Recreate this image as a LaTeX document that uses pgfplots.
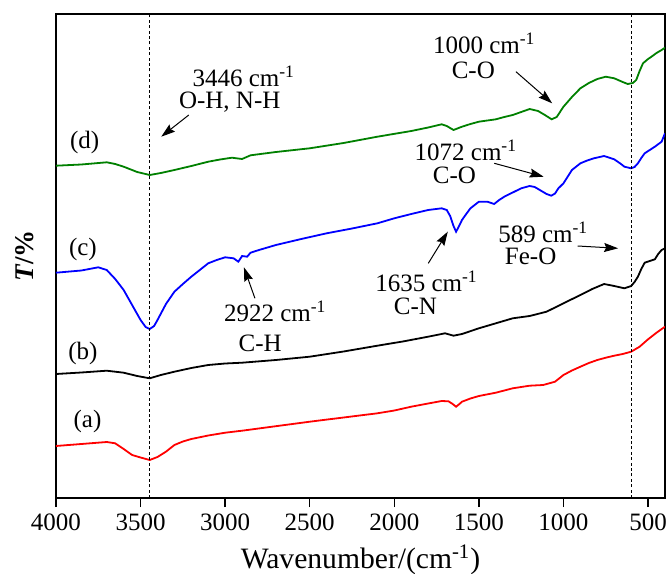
\documentclass[border=0pt]{standalone}
\usepackage{pgfplots}
\pgfplotsset{compat=1.18}
\usepackage{fontspec}
\setmainfont{Liberation Serif}
\usetikzlibrary{arrows.meta}
\definecolor{cgreen}{RGB}{0,128,0}
\definecolor{cblue}{RGB}{0,0,255}
\definecolor{cred}{RGB}{255,0,0}
\newcommand\af{\fontsize{12.5}{14}\selectfont}
\begin{document}
\begin{tikzpicture}
\begin{axis}[
  at={(0,0)}, anchor=south west,
  scale only axis, width=304.5pt, height=242pt,
  x dir=reverse, xmin=400, xmax=4000, ymin=1, ymax=485,
  axis line style={line width=0.75pt},
  ytick=\empty,
  xtick={500,1000,...,4000},
  xtick pos=bottom, tick align=outside,
  major tick length=4.5pt,
  tick style={line width=0.75pt, black},
  /pgf/number format/1000 sep={},
  /pgf/number format/assume math mode=true,
  ticklabel style={font=\fontsize{12.5}{14}\selectfont},
  xlabel={Wavenumber/(cm\textsuperscript{-1})},
  xlabel style={at={(axis description cs:0.5,0)}, anchor=center, yshift=-31pt, font=\fontsize{14.8}{16}\selectfont},
  ylabel={\textbf{\textit{T}/\%}},
  ylabel style={at={(axis description cs:0,0.5)}, anchor=center, yshift=15.5pt, font=\fontsize{13.5}{15}\selectfont},
  every axis plot/.append style={line width=0.9pt},
]
% (d) green
\addplot[cgreen] coordinates {
(4000,333.3) (3850,334.5) (3700,336.7) (3650,335) (3600,332.3) (3520,327) (3446,324) (3380,326) (3300,329) (3200,333) (3100,337.3) (3030,339.5) (2960,341.3) (2900,340) (2850,343.7) (2700,347) (2500,350.7) (2300,356) (2100,362.3) (1900,368) (1800,371.5) (1720,374.7) (1690,373) (1650,369) (1620,371) (1600,372.3) (1550,375) (1500,377.3) (1450,378.5) (1400,379.7) (1350,382) (1300,384) (1250,387) (1200,390) (1150,388) (1110,384) (1070,379.7) (1040,382) (1000,392.3) (950,402) (900,410.7) (850,416) (800,420) (750,422.3) (700,420.7) (650,417) (620,415) (590,416) (570,419) (550,428) (530,435.7) (500,440) (480,442.3) (450,446) (420,449) (400,451.3)
};
% (c) blue
\addplot[cblue] coordinates {
(4000,226.3) (3850,228.5) (3750,231.7) (3700,229) (3650,220) (3600,209) (3550,194) (3500,179) (3470,172) (3446,170) (3420,173) (3400,179) (3350,195) (3300,207.3) (3250,215) (3200,222.3) (3150,229) (3100,235.7) (3050,239) (3000,241.7) (2950,240.7) (2922,237.3) (2900,243) (2870,242.3) (2850,246.3) (2800,249) (2700,254) (2550,260) (2400,265.7) (2250,270.5) (2100,275.7) (2000,280.7) (1900,285) (1800,289) (1720,290.7) (1690,289) (1670,283) (1650,273) (1635,267.3) (1620,272) (1600,279) (1575,285) (1550,290.7) (1500,297.3) (1450,297.3) (1410,295) (1380,299) (1350,302.3) (1300,306.5) (1250,310.7) (1200,313) (1170,312) (1140,309) (1100,305) (1072,303.3) (1050,305.5) (1030,310.7) (1000,315.7) (950,329) (900,335.7) (860,338.5) (820,340.7) (760,343) (700,339.7) (660,335) (640,332.3) (600,330.7) (580,332) (560,335.7) (540,341) (520,345.7) (490,349) (460,352.3) (420,357.3) (400,365.7)
};
% (b) black
\addplot[black] coordinates {
(4000,125) (3850,126.5) (3700,128.3) (3600,126.3) (3520,123) (3446,120.7) (3380,124) (3300,127.3) (3200,131) (3100,134) (3000,135.5) (2900,136.3) (2700,139) (2500,142.3) (2300,147.5) (2100,153.3) (1950,157.5) (1800,162.3) (1700,165.7) (1650,163.3) (1600,165) (1500,170.7) (1400,175.7) (1300,180.7) (1200,183) (1100,187.3) (1000,195.7) (900,204) (830,210) (760,215) (700,213) (640,210.7) (600,213) (580,217) (560,222.3) (540,230) (520,236.3) (490,238) (460,239.7) (440,245) (420,249) (400,250.7)
};
% (a) red
\addplot[cred] coordinates {
(4000,53) (3850,55) (3700,57) (3650,55.7) (3600,50) (3550,44) (3500,41.5) (3446,39) (3400,42) (3350,47.3) (3300,54) (3250,57.5) (3200,60) (3100,63.5) (3000,66.3) (2900,68.3) (2700,72.8) (2500,77.3) (2300,81.5) (2100,85.7) (2000,88.5) (1900,92.3) (1800,95.5) (1720,98) (1680,97.7) (1655,95) (1635,92.3) (1615,95) (1600,97.3) (1550,100.5) (1500,103) (1400,106.3) (1300,110.7) (1200,113.3) (1120,114) (1050,117.3) (1000,124) (950,128.5) (900,132.3) (850,136) (800,139) (750,141.3) (700,143.3) (650,145) (600,147.3) (550,152.3) (500,159.7) (450,166.3) (400,172.3)
};
% reference lines
\addplot[black, line width=0.4pt, dash pattern=on 1.5pt off 1.2pt] coordinates {(3446,1) (3446,485)};
\addplot[black, line width=0.4pt, dash pattern=on 1.5pt off 1.2pt] coordinates {(600,1) (600,485)};
% labels
\node[font=\af] at (axis cs:3831,357) {(d)};
\node[font=\af] at (axis cs:3841,250) {(c)};
\node[font=\af] at (axis cs:3841,146) {(b)};
\node[font=\af] at (axis cs:3814,77.3) {(a)};
\node[font=\af] at (axis cs:2890,423) {3446 cm\textsuperscript{-1}};
\node[font=\af] at (axis cs:2973,397) {O-H, N-H};
\draw[line width=0.5pt, -{Stealth[length=7pt,width=4.5pt,inset=1pt]}] (axis cs:3215,384) -- (axis cs:3378,362.3);
\node[font=\af] at (axis cs:1468,455.7) {1000 cm\textsuperscript{-1}};
\node[font=\af] at (axis cs:1533,429) {C-O};
\draw[line width=0.5pt, -{Stealth[length=7pt,width=4.5pt,inset=1pt]}] (axis cs:1281,427.3) -- (axis cs:1067,395.7);
\node[font=\af] at (axis cs:1577,349) {1072 cm\textsuperscript{-1}};
\node[font=\af] at (axis cs:1645,324) {C-O};
\draw[line width=0.5pt, -{Stealth[length=7pt,width=4.5pt,inset=1pt]}] (axis cs:1409,335.7) -- (axis cs:1117,322.3);
\node[font=\af] at (axis cs:2704,187.3) {2922 cm\textsuperscript{-1}};
\node[font=\af] at (axis cs:2793,155.7) {C-H};
\draw[line width=0.5pt, -{Stealth[length=7pt,width=4.5pt,inset=1pt]}] (axis cs:2824,200.7) -- (axis cs:2889,231.7);
\node[font=\af] at (axis cs:1810,217.3) {1635 cm\textsuperscript{-1}};
\node[font=\af] at (axis cs:1875,192.3) {C-N};
\draw[line width=0.5pt, -{Stealth[length=7pt,width=4.5pt,inset=1pt]}] (axis cs:1799,235.7) -- (axis cs:1684,267.3);
\node[font=\af] at (axis cs:1120,267) {589 cm\textsuperscript{-1}};
\node[font=\af] at (axis cs:1194,243) {Fe-O};
\draw[line width=0.5pt, -{Stealth[length=7pt,width=4.5pt,inset=1pt]}] (axis cs:916,253) -- (axis cs:677,250.7);
\end{axis}
\pgfresetboundingbox
\path[use as bounding box] (-28pt,-38pt) rectangle (305pt,249pt);
\end{tikzpicture}
\end{document}
